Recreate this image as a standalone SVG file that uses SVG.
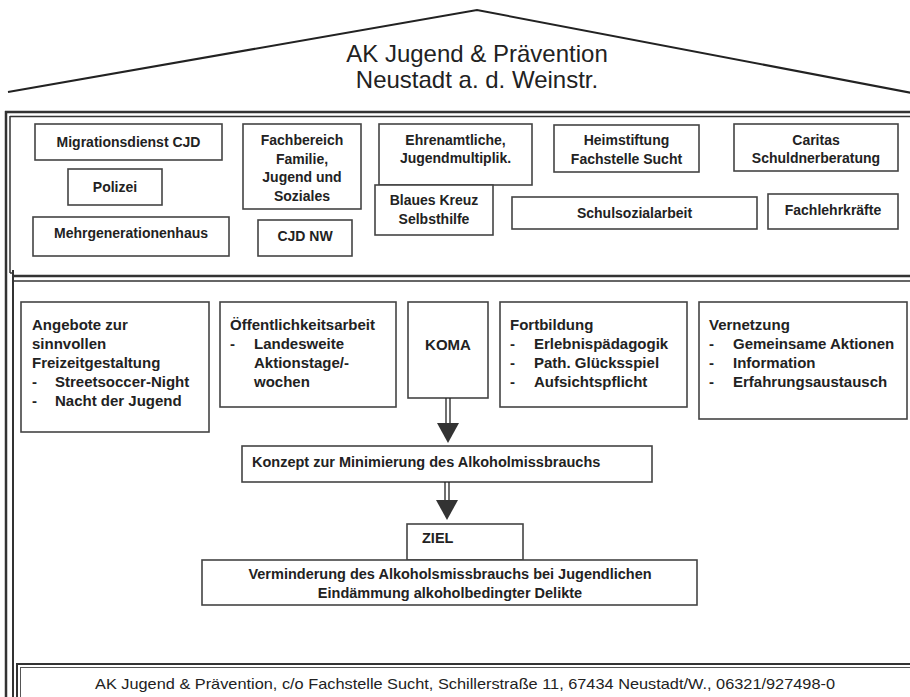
<svg xmlns="http://www.w3.org/2000/svg" width="910" height="697" viewBox="0 0 910 697">
<style>
.bx{fill:#fff;stroke:#444;stroke-width:1.6}
.fr{fill:none;stroke:#333}
.t{font-family:"Liberation Sans",Arial,sans-serif;fill:#222;font-weight:bold;font-size:14px}
.c{text-anchor:middle}
.m{font-size:15px}
.k{font-size:14.5px}
.r{font-family:"Liberation Sans",Arial,sans-serif;fill:#222;font-weight:normal}
.sh{fill:#333}
</style>
<rect width="910" height="697" fill="#fff"/>
<g id="roof">
<polyline points="8,92 477,10 912,93" fill="none" stroke="#222" stroke-width="2"/>
<text class="r c" x="477" y="62" font-size="24">AK Jugend &amp; Prävention</text>
<text class="r c" x="477" y="88" font-size="24">Neustadt a. d. Weinstr.</text>
</g>
<g id="frames">
<line class="fr" x1="6" y1="111" x2="6" y2="697" stroke-width="2.5"/>
<line class="fr" x1="5" y1="112" x2="912" y2="112" stroke-width="2.5"/>
<line class="fr" x1="10" y1="116.5" x2="912" y2="116.5" stroke-width="1.5"/>
<line class="fr" x1="10" y1="116" x2="10" y2="273" stroke-width="1.5"/>
<line class="fr" x1="10" y1="273" x2="14" y2="273" stroke-width="1.5"/>
<line class="fr" x1="13" y1="270" x2="13" y2="697" stroke-width="2"/>
<line class="fr" x1="13" y1="276" x2="912" y2="276" stroke-width="2.5"/>
<line class="fr" x1="13" y1="281" x2="912" y2="281" stroke-width="1.5"/>
</g>
<g id="n-migration"><rect class="bx" x="35" y="124" width="187" height="36"/><text class="t c" x="128.5" y="147">Migrationsdienst CJD</text></g>
<g id="n-polizei"><rect class="bx" x="68" y="169" width="94" height="36"/><text class="t c" x="115" y="192">Polizei</text></g>
<g id="n-mehrgen"><rect class="bx" x="33" y="217" width="196" height="39"/><text class="t c" x="131" y="238">Mehrgenerationenhaus</text></g>
<g id="n-fachbereich"><rect class="bx" x="243" y="124" width="118" height="85"/><text class="t c" x="302" y="145">Fachbereich</text><text class="t c" x="302" y="163.5">Familie,</text><text class="t c" x="302" y="182">Jugend und</text><text class="t c" x="302" y="200.5">Soziales</text></g>
<g id="n-cjdnw"><rect class="bx" x="258" y="220" width="94" height="36"/><text class="t c" x="305" y="241">CJD NW</text></g>
<g id="n-ehrenamt"><rect class="bx" x="379" y="124" width="153" height="61"/><text class="t c" x="455.5" y="145">Ehrenamtliche,</text><text class="t c" x="455.5" y="163">Jugendmultiplik.</text></g>
<g id="n-blaueskreuz"><rect class="bx" x="375" y="185" width="118" height="50"/><text class="t c" x="434" y="205">Blaues Kreuz</text><text class="t c" x="434" y="224">Selbsthilfe</text></g>
<g id="n-heimstiftung"><rect class="bx" x="554" y="125" width="145" height="47"/><text class="t c" x="626.5" y="145">Heimstiftung</text><text class="t c" x="626.5" y="164">Fachstelle Sucht</text></g>
<g id="n-caritas"><rect class="bx" x="734" y="124" width="164" height="47"/><text class="t c" x="816" y="145">Caritas</text><text class="t c" x="816" y="163">Schuldnerberatung</text></g>
<g id="n-schulsozial"><rect class="bx" x="512" y="197" width="245" height="32"/><text class="t c" x="634.5" y="218">Schulsozialarbeit</text></g>
<g id="n-fachlehr"><rect class="bx" x="768" y="194" width="130" height="35"/><text class="t c" x="833" y="215">Fachlehrkräfte</text></g>
<g id="n-angebote"><rect class="bx" x="21" y="302" width="188" height="130"/>
<text class="t m" x="32" y="330">Angebote zur</text><text class="t m" x="32" y="349">sinnvollen</text><text class="t m" x="32" y="368">Freizeitgestaltung</text>
<text class="t m" x="32" y="387">-</text><text class="t m" x="55" y="387">Streetsoccer-Night</text>
<text class="t m" x="32" y="406">-</text><text class="t m" x="55" y="406">Nacht der Jugend</text></g>
<g id="n-oeffentlich"><rect class="bx" x="220" y="302" width="176" height="105"/>
<text class="t m" x="230" y="330">Öffentlichkeitsarbeit</text>
<text class="t m" x="230" y="349">-</text><text class="t m" x="254" y="349">Landesweite</text>
<text class="t m" x="254" y="368">Aktionstage/-</text><text class="t m" x="254" y="387">wochen</text></g>
<g id="n-koma"><rect class="bx" x="408" y="302" width="80" height="96"/><text class="t m c" x="448" y="350">KOMA</text></g>
<g id="n-fortbildung"><rect class="bx" x="500" y="302" width="187" height="105"/>
<text class="t m" x="510" y="330">Fortbildung</text>
<text class="t m" x="510" y="349">-</text><text class="t m" x="534" y="349">Erlebnispädagogik</text>
<text class="t m" x="510" y="368">-</text><text class="t m" x="534" y="368">Path. Glücksspiel</text>
<text class="t m" x="510" y="387">-</text><text class="t m" x="534" y="387">Aufsichtspflicht</text></g>
<g id="n-vernetzung"><rect class="bx" x="699" y="302" width="208" height="117"/>
<text class="t m" x="709" y="330">Vernetzung</text>
<text class="t m" x="709" y="349">-</text><text class="t m" x="733" y="349">Gemeinsame Aktionen</text>
<text class="t m" x="709" y="368">-</text><text class="t m" x="733" y="368">Information</text>
<text class="t m" x="709" y="387">-</text><text class="t m" x="733" y="387">Erfahrungsaustausch</text></g>
<g id="n-konzept"><rect class="bx" x="242" y="446" width="410" height="36"/><text class="t k" x="252" y="467">Konzept zur Minimierung des Alkoholmissbrauchs</text></g>
<g id="n-ziel"><rect class="bx" x="407" y="524" width="116" height="36"/><text class="t k" x="422" y="543">ZIEL</text></g>
<g id="n-verminderung"><rect class="bx" x="202" y="560" width="495" height="45"/><text class="t k c" x="450" y="579">Verminderung des Alkoholsmissbrauchs bei Jugendlichen</text><text class="t k c" x="450" y="598">Eindämmung alkoholbedingter Delikte</text></g>
<g id="connectors">
<line x1="446" y1="398" x2="446" y2="424" stroke="#222" stroke-width="1.3"/>
<line x1="450" y1="398" x2="450" y2="424" stroke="#222" stroke-width="1.3"/>
<polygon class="sh" points="437,423 459,423 448,443"/>
<line x1="445" y1="482" x2="445" y2="501" stroke="#222" stroke-width="1.3"/>
<line x1="449" y1="482" x2="449" y2="501" stroke="#222" stroke-width="1.3"/>
<polygon class="sh" points="436,500 458,500 447,520"/>
</g>
<g id="n-footer">
<rect x="17" y="664" width="900" height="40" fill="#fff" stroke="#333" stroke-width="2"/>
<rect x="20.5" y="667.5" width="900" height="40" fill="none" stroke="#555" stroke-width="1"/>
<text class="r c" x="465" y="689" font-size="15" textLength="740" lengthAdjust="spacingAndGlyphs">AK Jugend &amp; Prävention, c/o Fachstelle Sucht, Schillerstraße 11, 67434 Neustadt/W., 06321/927498-0</text>
</g>
</svg>
